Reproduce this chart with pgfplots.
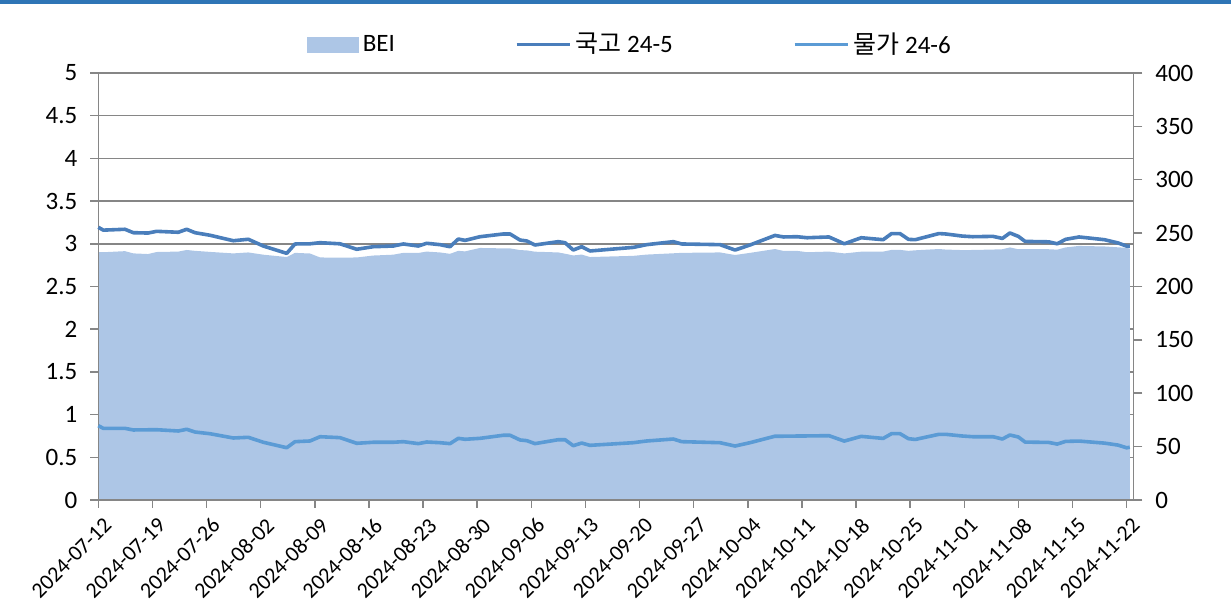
\documentclass[border=0pt]{standalone}
\usepackage{pgfplots}
\usepackage{pgfplotstable}
\usepackage{fontspec}
\pgfplotsset{compat=1.18}
\setmainfont{Carlito}
\newfontfamily\kr{Noto Sans CJK KR}
\definecolor{barblue}{RGB}{46,117,182}
\definecolor{areacol}{RGB}{173,198,230}
\definecolor{gukgo}{RGB}{74,126,187}
\definecolor{mulga}{RGB}{91,155,213}
\definecolor{gridgray}{RGB}{134,134,134}

% d = days since 2024-07-12; U = 국고 24-5 (%); L = 물가 24-6 (%); B = BEI (bp)
\pgfplotstableread{
d U L B
0 3.193 0.870 232.3
0.65 3.160 0.839 232.1
3.45 3.170 0.839 233.1
4.53 3.130 0.820 231.0
6.43 3.126 0.822 230.4
7.55 3.146 0.823 232.3
10.35 3.135 0.808 232.7
11.43 3.170 0.828 234.2
12.51 3.130 0.796 233.4
14.45 3.100 0.776 232.4
17.46 3.036 0.726 231.0
19.40 3.053 0.734 231.9
21.34 2.974 0.676 229.8
24.37 2.888 0.612 227.6
25.44 2.998 0.683 231.5
27.38 3.000 0.691 230.9
28.68 3.013 0.741 227.2
31.26 3.000 0.730 227.0
33.42 2.936 0.664 227.2
35.57 2.966 0.676 229.0
38.15 2.974 0.676 229.8
39.45 2.998 0.683 231.5
41.39 2.974 0.660 231.4
42.47 3.006 0.679 232.7
44.19 2.990 0.671 231.9
45.49 2.966 0.660 230.6
46.56 3.056 0.722 233.4
47.43 3.040 0.711 232.9
49.37 3.083 0.722 236.1
52.38 3.115 0.758 235.7
53.25 3.115 0.758 235.7
54.54 3.044 0.703 234.1
55.41 3.033 0.695 233.8
56.48 2.986 0.660 232.6
59.49 3.025 0.706 231.9
60.36 3.013 0.706 230.7
61.43 2.927 0.636 229.1
62.52 2.966 0.667 229.9
63.59 2.916 0.640 227.6
69.19 2.958 0.671 228.7
70.93 2.990 0.691 229.9
74.37 3.025 0.714 231.1
75.45 2.998 0.683 231.5
80.41 2.990 0.671 231.9
82.35 2.927 0.632 229.5
84.29 2.986 0.671 231.5
87.52 3.098 0.747 235.1
88.62 3.080 0.747 233.3
90.37 3.083 0.749 233.4
91.66 3.071 0.750 232.1
94.50 3.080 0.753 232.7
96.48 3.000 0.690 231.0
98.67 3.071 0.745 232.6
101.51 3.048 0.721 232.7
102.60 3.120 0.777 234.3
103.68 3.120 0.777 234.3
104.78 3.052 0.718 233.4
105.66 3.048 0.709 233.9
108.72 3.120 0.769 235.1
109.60 3.115 0.769 234.6
111.78 3.090 0.749 234.1
113.09 3.083 0.741 234.2
115.71 3.087 0.741 234.6
116.93 3.063 0.714 234.9
117.90 3.127 0.761 236.6
118.99 3.087 0.738 234.9
119.87 3.028 0.678 235.0
122.92 3.023 0.674 234.9
124.02 3.000 0.655 234.5
125.10 3.052 0.686 236.6
126.85 3.080 0.690 238.0
130.13 3.048 0.666 237.5
131.88 3.010 0.643 236.7
133.00 2.973 0.611 236.2
133.40 2.973 0.618 235.5
}\data

\begin{document}
\begin{tikzpicture}
\useasboundingbox (-49.15pt,-54pt) rectangle (566.35pt,250pt);
\fill[barblue] (-49.15pt,248pt) rectangle (566.35pt,250pt);
\pgfplotsset{
  common/.style={
    at={(0,0)}, anchor=south west,
    scale only axis, width=517.5pt, height=213.5pt,
    xmin=0, xmax=133.86,
    tick align=outside,
    axis line style={gridgray, line width=0.75pt, -},
    every tick/.style={gridgray, line width=0.75pt},
    tick label style={font=\fontsize{12.5}{15}\selectfont, text=black},
    /pgf/number format/assume math mode=true,
    clip=false,
  }
}
% right axis: BEI area
\begin{axis}[common,
  ymin=0, ymax=400,
  axis y line*=right, axis x line=none,
  ytick={0,50,...,400},
  major tick length=4.5pt,
  extra y ticks={40,80,...,400},
  extra y tick labels={},
  extra y tick style={grid=major, major tick length=0pt},
  major grid style={gridgray, line width=0.75pt},
  yticklabel style={xshift=3pt},
]
\addplot[fill=areacol, draw=none] table[x=d, y=B]{\data} \closedcycle;
\end{axis}
% left axis: yields
\begin{axis}[common,
  ymin=0, ymax=5,
  axis y line*=left, axis x line*=bottom,
  major tick length=4pt,
  ytick={0,0.5,...,5},
  yticklabel style={/pgf/number format/fixed, xshift=-3pt},
  xtick={0,7,...,133},
  xticklabels={2024-07-12,2024-07-19,2024-07-26,2024-08-02,2024-08-09,2024-08-16,2024-08-23,2024-08-30,2024-09-06,2024-09-13,2024-09-20,2024-09-27,2024-10-04,2024-10-11,2024-10-18,2024-10-25,2024-11-01,2024-11-08,2024-11-15,2024-11-22},
  xticklabel style={rotate=45, anchor=north east, xshift=2pt, yshift=-1pt,
    font=\fontsize{11}{13}\selectfont},
  legend style={at={(0.1955,1.0667)}, anchor=west, draw=none, fill=none,
    font=\fontsize{12.5}{15}\selectfont, legend columns=3,
    /tikz/every even column/.append style={column sep=58pt}},
]
\addlegendimage{legend image code/.code={\fill[areacol] (0pt,-3.75pt) rectangle (25.5pt,3.75pt);}}
\addlegendentry{BEI}
\addplot[gukgo, line width=1.8pt, line join=round,
  legend image code/.code={\draw[gukgo, line width=1.8pt] (0pt,0pt) -- (26.5pt,0pt);}]
  table[x=d, y=U]{\data};
\addlegendentry{{\kr 국고} 24-5}
\addplot[mulga, line width=1.8pt, line join=round,
  legend image code/.code={\draw[mulga, line width=1.8pt] (0pt,0pt) -- (26.5pt,0pt);}]
  table[x=d, y=L]{\data};
\addlegendentry{{\kr 물가} 24-6}
\end{axis}
\end{tikzpicture}
\end{document}
